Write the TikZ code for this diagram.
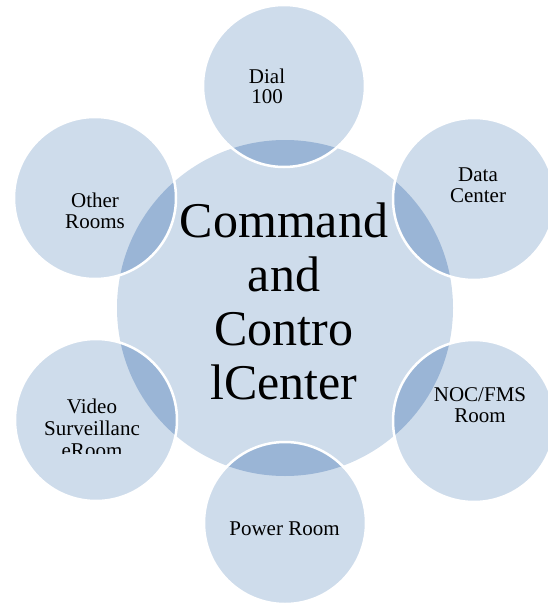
\documentclass[tikz,border=0pt]{standalone}
\usepackage{fontspec}
\setmainfont{Liberation Serif}
\definecolor{fillL}{RGB}{206,220,235}
\definecolor{lensC}{RGB}{154,181,214}
\begin{document}
\begin{tikzpicture}[x=1pt,y=-1pt,
  hub/.style={circle, fill=fillL, minimum size=336pt, inner sep=0pt},
  ring/.style={circle, fill=fillL, minimum size=162pt, inner sep=0pt},
  lbl/.style={font=\fontsize{21}{20.5}\selectfont, align=center, inner sep=0pt, anchor=base},
  biglbl/.style={font=\fontsize{50}{54}\selectfont, align=center, inner sep=0pt, anchor=base}]
\useasboundingbox (0,0) rectangle (547,607);
\node[hub] (cc) at (285,308) {};
\foreach \n/\x/\y in {dial/284/86, data/474/199, noc/474/421, power/285/523, video/96/420, other/95/198}
  \node[ring] (\n) at (\x,\y) {};
\begin{scope}
  \clip (cc.center) circle [radius=168pt];
  \foreach \n in {dial,data,noc,power,video,other}
    \fill[lensC] (\n.center) circle [radius=81pt];
\end{scope}
\foreach \n in {dial,data,noc,power,video,other}
  \draw[white, line width=2.5pt] (\n.center) circle [radius=81pt];
\node[lbl] (tdial) at (267,104) {Dial\\100};
\node[lbl] (tdata) at (478,202) {Data\\Center};
\node[lbl] (tother) at (95,228) {Other\\Rooms};
\node[lbl] (tnoc) at (480,422) {NOC/FMS\\Room};
\node[lbl] (tpower) at (284.5,535) {Power Room};
\begin{scope}
  \clip (0,0) rectangle (547,453);
  \node[lbl, font=\fontsize{21}{22}\selectfont] (tvideo) at (92,457) {Video\\Surveillanc\\eRoom};
\end{scope}
\node[biglbl] (tcc) at (284,399) {Command\\and\\Contro\\lCenter};
\end{tikzpicture}
\end{document}
